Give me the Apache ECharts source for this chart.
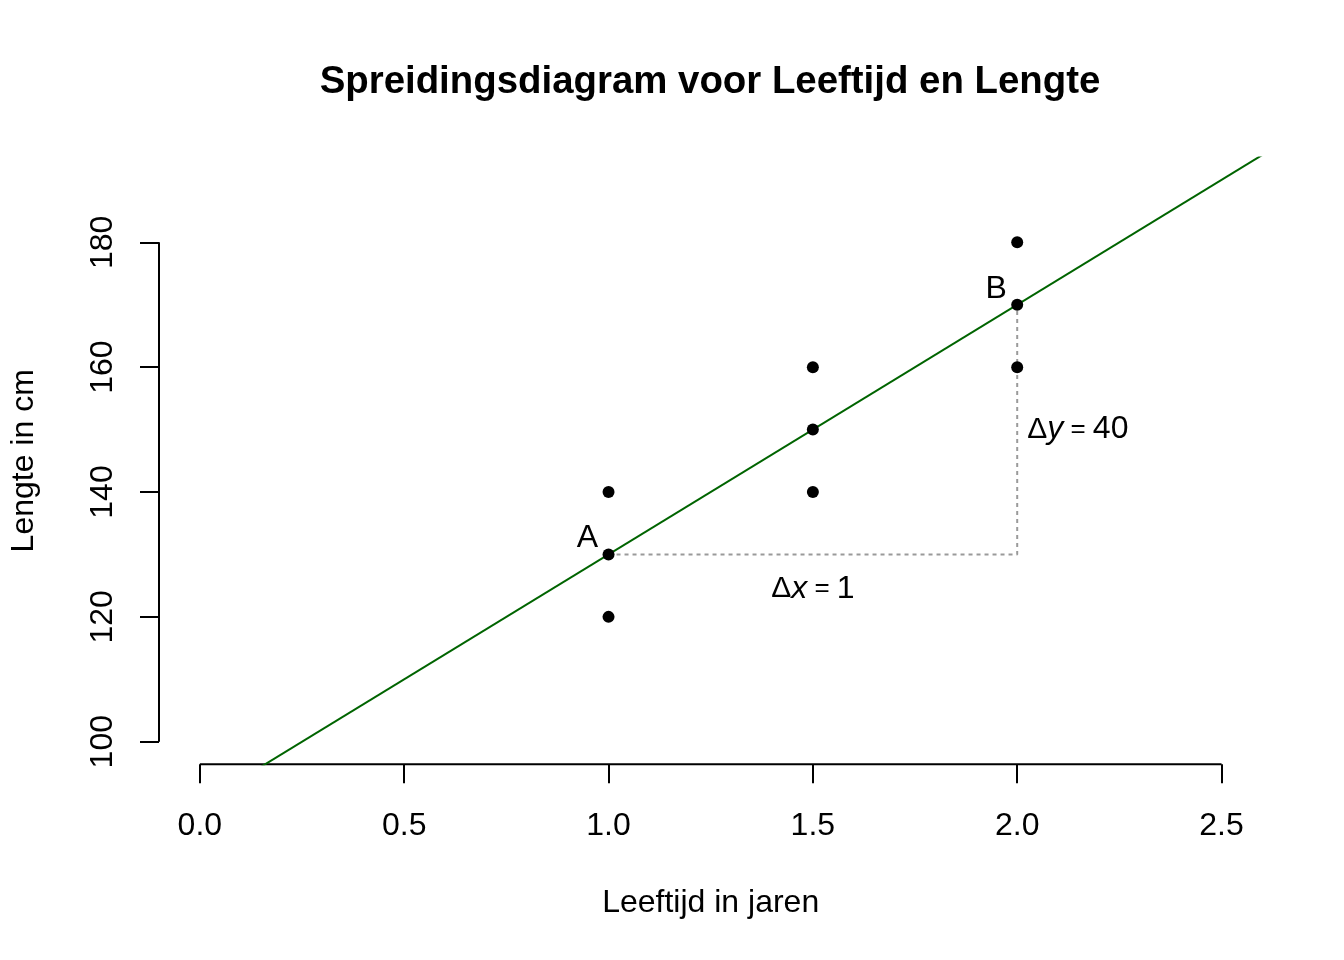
<!DOCTYPE html>
<html>
<head>
<meta charset="utf-8">
<script src="https://cdn.jsdelivr.net/npm/echarts@6/dist/echarts.min.js"></script>
<style>
html,body{margin:0;padding:0;background:#fff;}
#chart{width:1344px;height:960px;}
</style>
</head>
<body>
<div id="chart"></div>
<script>
// ---- data ----
const ages = [1, 1, 1, 1.5, 1.5, 1.5, 2, 2, 2];
const heights = [120, 130, 140, 140, 150, 160, 160, 170, 180];
const lineIntercept = 90;
const lineSlope = 40;
const xTicks = [0, 0.5, 1, 1.5, 2, 2.5];
const yTicks = [100, 120, 140, 160, 180];
const xLimits = [-0.1, 2.6];
const yLimits = [96.4, 193.6];
const pointA = [1, 130];
const pointB = [2, 170];
const pointLabels = ['A', 'B'];
const deltaXPos = [1.5, 124.5];
const deltaYPos = [2, 150];
const titleText = 'Spreidingsdiagram voor Leeftijd en Lengte';
const xName = 'Leeftijd in jaren';
const yName = 'Lengte in cm';

const FONT = '"Liberation Sans", Arial, Helvetica, sans-serif';
const chart = echarts.init(document.getElementById('chart'), null, {renderer: 'canvas'});

const scatterData = ages.map((a, i) => [a, heights[i]]);
const fitLine = xLimits.map(x => [x, lineIntercept + lineSlope * x]);
const deltaPath = [pointA, [pointB[0], pointA[1]], pointB];

const xAxisLine = [[xTicks[0], yLimits[0]], [xTicks[xTicks.length - 1], yLimits[0]]];
const yAxisLine = [[xLimits[0], yTicks[0]], [xLimits[0], yTicks[yTicks.length - 1]]];

const richDelta = {
  d: {fontSize: 30, color: '#000', fontFamily: FONT},
  i: {fontSize: 32, color: '#000', fontFamily: FONT, fontStyle: 'italic'},
  e: {fontSize: 26, color: '#000', fontFamily: FONT},
  n: {fontSize: 32, color: '#000', fontFamily: FONT}
};

const option = {
  animation: false,
  backgroundColor: '#ffffff',
  textStyle: {fontFamily: FONT},
  graphic: [{
    type: 'text',
    x: 710,
    y: 63,
    style: {
      text: titleText,
      font: 'bold 38.4px ' + FONT,
      fill: '#000',
      align: 'center',
      verticalAlign: 'top'
    }
  }],
  grid: {left: 158, right: 81.6, top: 157.4, bottom: 195.8, containLabel: false},
  xAxis: {
    type: 'value',
    min: xLimits[0], max: xLimits[1],
    splitLine: {show: false},
    axisLine: {show: false, onZero: false},
    axisTick: {show: true, customValues: xTicks, length: 19, lineStyle: {color: '#000', width: 2}},
    axisLabel: {customValues: xTicks, formatter: v => v.toFixed(1), fontSize: 32, color: '#000', fontFamily: FONT, margin: 46},
    name: xName,
    nameLocation: 'middle',
    nameGap: 123,
    nameTextStyle: {fontSize: 32, color: '#000', fontFamily: FONT}
  },
  yAxis: {
    type: 'value',
    min: yLimits[0], max: yLimits[1],
    splitLine: {show: false},
    axisLine: {show: false, onZero: false},
    axisTick: {show: true, customValues: yTicks, length: 19, lineStyle: {color: '#000', width: 2}},
    axisLabel: {customValues: yTicks, fontSize: 32, color: '#000', fontFamily: FONT, rotate: 90, margin: 40},
    name: yName,
    nameLocation: 'middle',
    nameGap: 119,
    nameRotate: 90,
    nameTextStyle: {fontSize: 32, color: '#000', fontFamily: FONT}
  },
  series: [
    {
      type: 'line', data: xAxisLine, symbol: 'none', clip: false, silent: true,
      lineStyle: {color: '#000', width: 2}, z: 1
    },
    {
      type: 'line', data: yAxisLine, symbol: 'none', clip: false, silent: true,
      lineStyle: {color: '#000', width: 2}, z: 1
    },
    {
      type: 'line', data: deltaPath, symbol: 'none', clip: true,
      lineStyle: {color: '#9a9a9a', width: 2, type: [4, 4]}, z: 2
    },
    {
      type: 'line', data: fitLine, symbol: 'none', clip: true,
      lineStyle: {color: '#006400', width: 2}, z: 3
    },
    {
      type: 'scatter', data: scatterData, symbol: 'circle', symbolSize: 12,
      itemStyle: {color: '#000', opacity: 1}, z: 4
    },
    {
      type: 'scatter', symbolSize: 0, z: 5,
      itemStyle: {color: '#000', opacity: 1},
      data: [pointA, pointB].map((p, i) => ({value: p, name: pointLabels[i]})),
      label: {
        show: true, position: 'inside', formatter: p => p.name,
        offset: [-21, -16], fontSize: 32, color: '#000', fontFamily: FONT
      }
    },
    {
      type: 'scatter', symbolSize: 0, z: 5,
      itemStyle: {color: '#000', opacity: 1},
      data: [{value: deltaXPos}],
      label: {
        show: true, position: 'inside', align: 'center', verticalAlign: 'middle',
        formatter: '{d|Δ}{i|x}{e| = }{n|1}',
        rich: richDelta
      }
    },
    {
      type: 'scatter', symbolSize: 0, z: 5,
      itemStyle: {color: '#000', opacity: 1},
      data: [{value: deltaYPos}],
      label: {
        show: true, position: 'right', distance: 10, align: 'left', verticalAlign: 'middle',
        formatter: '{d|Δ}{i|y}{e| = }{n|40}',
        rich: richDelta
      }
    }
  ]
};
chart.setOption(option);
</script>
</body>
</html>
